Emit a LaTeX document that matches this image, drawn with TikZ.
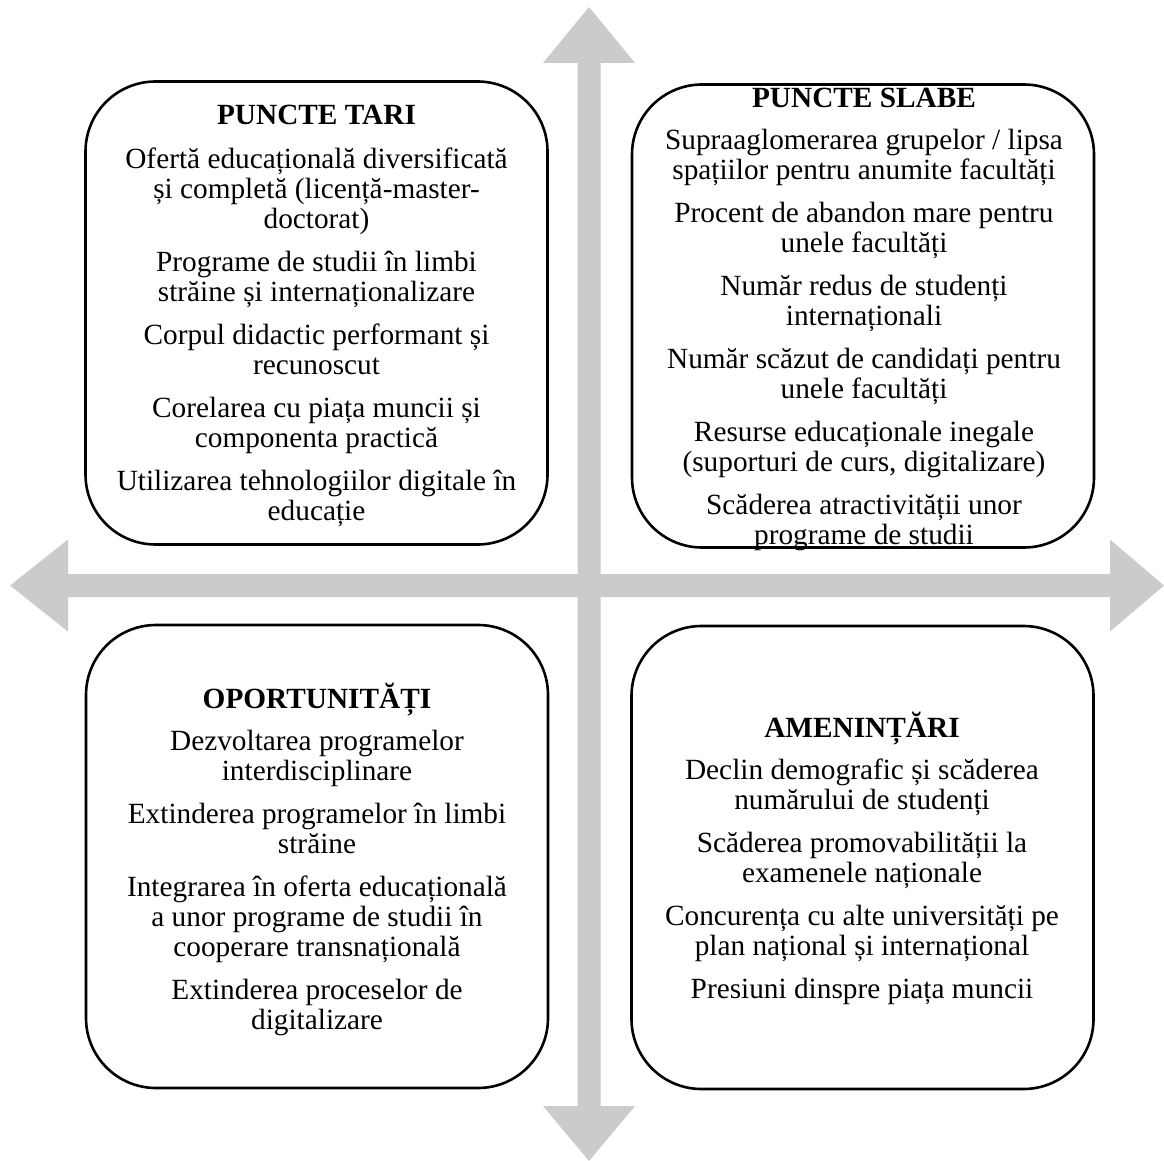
\documentclass[tikz,border=0pt]{standalone}
\usepackage{fontspec}
\setmainfont{Liberation Serif}
\usetikzlibrary{positioning}

\definecolor{crossgray}{RGB}{203,203,203}

\begin{document}
\begin{tikzpicture}[
			x=1pt, y=-1pt,
			quadrant/.style={draw, line width=2.6pt, rounded corners=70pt, minimum width=462pt, minimum height=463pt},
			listing/.style={align=center, inner sep=0pt, font=\fontsize{29.3}{30}\selectfont}]

	\useasboundingbox (0,0) rectangle (1164,1161);

	% the cross of arrows
	\fill[crossgray] (589,7) -- (635,63) -- (600.5,63) -- (600.5,1106) -- (635,1106) -- (589,1161)
		-- (543,1106) -- (577.5,1106) -- (577.5,63) -- (543,63) -- cycle;
	\fill[crossgray] (10,585.5) -- (68,539.5) -- (68,574) -- (1110,574) -- (1110,539.5) -- (1164,585.5)
		-- (1110,631.5) -- (1110,597) -- (68,597) -- (68,631.5) -- cycle;

	% the four boxes
	\node[quadrant](tari) at (316.5,313) {};
	\node[quadrant](slabe) at (863,316) {};
	\node[quadrant](oportunitati) at (317,856.5) {};
	\node[quadrant](amenintari) at (862.5,857.5) {};

	\node[listing](tarilist) at (316.5,315.5) {\textbf{PUNCTE TARI}\\[14pt]
		Ofertă educațională diversificată\\ și completă (licență-master-\\ doctorat)\\[13pt]
		Programe de studii în limbi\\ străine și internaționalizare\\[13pt]
		Corpul didactic performant și\\ recunoscut\\[13pt]
		Corelarea cu piața muncii și\\ componenta practică\\[13pt]
		Utilizarea tehnologiilor digitale în\\ educație};

	\node[listing](slabelist) at (864,319) {\textbf{PUNCTE SLABE}\\[12pt]
		Supraaglomerarea grupelor / lipsa\\ spațiilor pentru anumite facultăți\\[13pt]
		Procent de abandon mare pentru\\ unele facultăți\\[13pt]
		Număr redus de studenți\\ internaționali\\[13pt]
		Număr scăzut de candidați pentru\\ unele facultăți\\[13pt]
		Resurse educaționale inegale\\ (suporturi de curs, digitalizare)\\[13pt]
		Scăderea atractivității unor\\ programe de studii};

	\node[listing](oportunitatilist) at (317,859.5) {\textbf{OPORTUNITĂȚI}\\[12pt]
		Dezvoltarea programelor\\ interdisciplinare\\[13pt]
		Extinderea programelor în limbi\\ străine\\[13pt]
		Integrarea în oferta educațională\\ a unor programe de studii în\\ cooperare transnațională\\[13pt]
		Extinderea proceselor de\\ digitalizare};

	\node[listing](amenintarilist) at (862,858) {\textbf{AMENINȚĂRI}\\[12pt]
		Declin demografic și scăderea\\ numărului de studenți\\[13pt]
		Scăderea promovabilității la\\ examenele naționale\\[13pt]
		Concurența cu alte universități pe\\ plan național și internațional\\[13pt]
		Presiuni dinspre piața muncii};
\end{tikzpicture}
\end{document}
